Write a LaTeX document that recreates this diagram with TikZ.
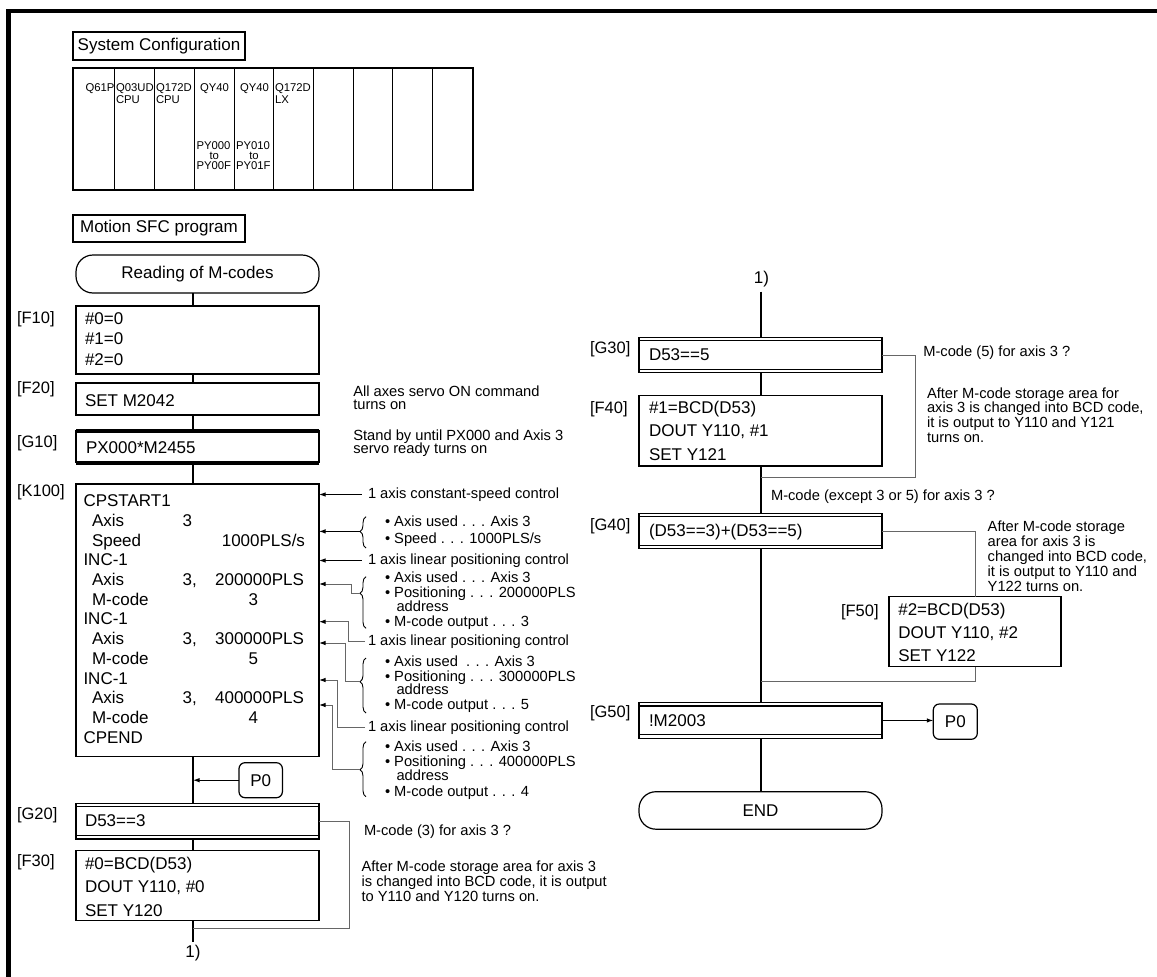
\documentclass[tikz,border=0pt]{standalone}
\usepackage{fontspec}
\setmainfont{Liberation Sans}
\usetikzlibrary{arrows.meta,decorations.pathreplacing}
\tikzset{
  every node/.style={inner sep=0pt,outer sep=0pt},
  T/.style={font=\fontsize{17}{20}\selectfont,anchor=base west},
  TE/.style={font=\fontsize{17}{20}\selectfont,anchor=base east},
  TC/.style={font=\fontsize{17}{20}\selectfont,anchor=base},
  LB/.style={font=\fontsize{16.5}{20}\selectfont,anchor=base west},
  NT/.style={font=\fontsize{14.7}{15}\selectfont,anchor=base west},
  SM/.style={font=\fontsize{11.3}{12}\selectfont,anchor=base west},
  SMC/.style={font=\fontsize{11.3}{12}\selectfont,anchor=base},
  blk/.style={draw,line width=1.2pt,rectangle,anchor=north west,minimum width=243pt},
  trn/.style={blk,minimum height=35.5pt},
  stad/.style={draw,line width=1.2pt,rectangle,rounded corners=17pt,anchor=north west,minimum width=243pt,font=\fontsize{17}{20}\selectfont},
  pz/.style={draw,line width=1.2pt,rectangle,rounded corners=6pt,anchor=north west,font=\fontsize{17}{20}\selectfont},
  flow/.style={line width=1.2pt},
  br/.style={draw=black!60,line width=1pt},
  arr/.style={line width=1pt,-{Latex[length=6.5pt,width=4.5pt,color=black]}},
  elb/.style={draw=black!60,line width=1pt,-{Latex[length=6.5pt,width=4.5pt,color=black]}},
  brc/.style={decorate,line width=0.9pt,decoration={brace,mirror,amplitude=6pt,aspect=#1}},
  hdr/.style={draw,line width=1.1pt,anchor=north west,minimum width=172pt,font=\fontsize{17}{20}\selectfont},
}
\begin{document}
\begin{tikzpicture}[x=1pt,y=-1pt]
\useasboundingbox (0,0) rectangle (1157,977);
% page frame
\draw[line width=4pt] (6,11) -- (1157,11);
\draw[line width=5pt] (8.5,9) -- (8.5,977);

% ---------- System configuration ----------
\node[hdr,minimum height=28pt] (sysc) at (73,32) {System Configuration};
\node[draw,line width=2pt,anchor=north west,minimum width=400pt,minimum height=122pt] (tbl) at (73.3,68) {};
\foreach \x in {114.3,154.3,194.3,234,273.7,313.3,353.3,392.7,432.7}
  \draw[line width=1pt] (\x,68) -- (\x,190);
\node[SM] (c1) at (85.5,91.7) {Q61P};
\node[SM] (c2) at (116,91.7) {Q03UD};
\node[SM] (c2b) at (116,103.5) {CPU};
\node[SM] (c3) at (156,91.7) {Q172D};
\node[SM] (c3b) at (156,103.5) {CPU};
\node[SM] (c4) at (200,91.7) {QY40};
\node[SM] (c5) at (240,91.7) {QY40};
\node[SM] (c6) at (275,91.7) {Q172D};
\node[SM] (c6b) at (275,103.5) {LX};
\node[SM] (c4a) at (196.5,149.3) {PY000};
\node[SMC] (c4t) at (214.3,159.3) {to};
\node[SM] (c4c) at (196.5,169.3) {PY00F};
\node[SM] (c5a) at (236,149.3) {PY010};
\node[SMC] (c5t) at (254,159.3) {to};
\node[SM] (c5c) at (236,169.3) {PY01F};

\node[hdr,minimum height=27pt] (msfc) at (73,215) {Motion SFC program};

% ---------- left column ----------
\coordinate (L) at (193,0);
\node[stad,minimum height=38pt] (start) at (76,255) {Reading of M-codes};
\node[blk,minimum height=68pt] (f10) at (76,306) {};
\node[blk,minimum height=32pt] (f20) at (76,383) {};
\node[blk,minimum height=31.5pt] (g10) at (76,431) {};
\node[blk,minimum height=272.7pt] (k100) at (76,484) {};
\node[trn] (g20) at (76,803.5) {};
\node[blk,minimum height=69.5pt] (f30) at (76,850.7) {};
\draw[line width=4pt] (g10.north west) -- (g10.north east);
\draw[line width=4pt] (g10.south west) -- (g10.south east);

\node[LB] (lf10) at (17,323) {[F10]};
\node[LB] (lf20) at (17,393.5) {[F20]};
\node[LB] (lg10) at (17,447.5) {[G10]};
\node[LB] (lk100) at (17,496.5) {[K100]};
\node[LB] (lg20) at (17,819) {[G20]};
\node[LB] (lf30) at (17,866) {[F30]};

\foreach \t [count=\i from 0] in {\#0=0,\#1=0,\#2=0}
  \node[T] (f10t\i) at (85,324+20.5*\i) {\t};
\node[T] (f20t) at (85,406.7) {SET M2042};
\node[T] (g10t) at (86,453) {PX000*M2455};
\foreach \t/\x [count=\i from 0] in {CPSTART1/83.5,Axis/92,Speed/92,INC-1/83.5,Axis/92,M-code/92,INC-1/83.5,Axis/92,M-code/92,INC-1/83.5,Axis/92,M-code/92,CPEND/83.5}
  \node[T] (kA\i) at (\x,506.7+19.7*\i) {\t};
\node[T] (kB1) at (182.7,526.4) {3};
\node[TE] (kC2) at (305,546.1) {1000PLS/s};
\node[T] (kB4) at (182.7,585.5) {3,};
\node[TE] (kC4) at (304,585.5) {200000PLS};
\node[TC] (kC5) at (253.3,605.2) {3};
\node[T] (kB7) at (182.7,644.6) {3,};
\node[TE] (kC7) at (304,644.6) {300000PLS};
\node[TC] (kC8) at (253.3,664.3) {5};
\node[T] (kB10) at (182.7,703.7) {3,};
\node[TE] (kC10) at (304,703.7) {400000PLS};
\node[TC] (kC11) at (253.3,723.4) {4};
\node[T] (g20t) at (85,826.7) {D53==3};
\node[T] (f30t0) at (85,869) {\#0=BCD(D53)};
\node[T] (f30t1) at (85,892.5) {DOUT Y110, \#0};
\node[T] (f30t2) at (85,916) {SET Y120};

\node[pz,minimum width=43.4pt,minimum height=35pt] (p0a) at (239,762.7) {P0};
\coordinate (l1top) at (193,941.7);
\node[TC] (l1) at (193,957) {1)};

% left flow lines
\draw[flow] (start.south -| L) -- (f10.north -| L);
\draw[flow] (f10.south -| L) -- (f20.north -| L);
\draw[flow] (f20.south -| L) -- (g10.north -| L);
\draw[flow] (g10.south -| L) -- (k100.north -| L);
\draw[flow] (k100.south -| L) -- (g20.north -| L);
\draw[flow] (g20.south -| L) -- (f30.north -| L);
\draw[flow] (f30.south -| L) -- (l1top);
\draw[arr] (p0a.west) -- (p0a.west -| L);
\foreach \n in {g20}{
  \draw[line width=1.1pt] ([yshift=-3.3pt]\n.north west) -- ([yshift=-3.3pt]\n.north east);
  \draw[line width=1.1pt] ([yshift=3.3pt]\n.south west) -- ([yshift=3.3pt]\n.south east);
}
\coordinate (b20) at (349.4,928);
\draw[br] (g20.east) -| (b20) -- (b20 -| L);

% ---------- left annotations ----------
\node[NT] (n20a) at (353.3,396) {All axes servo ON command};
\node[NT] (n20b) at (353.3,409.5) {turns on};
\node[NT] (n10a) at (353.3,440) {Stand by until PX000 and Axis 3};
\node[NT] (n10b) at (353.3,453) {servo ready turns on};

\node[NT] (t1) at (368,498.3) {1 axis constant-speed control};
\node[NT] (t2) at (368,564.3) {1 axis linear positioning control};
\node[NT] (t3) at (368,645.7) {1 axis linear positioning control};
\node[NT] (t4) at (368,731.7) {1 axis linear positioning control};

\node[NT] (b1a) at (385,526.7) {• Axis used . . . Axis 3};
\node[NT] (b1b) at (385,543.3) {• Speed . . . 1000PLS/s};
\node[NT] (b2a) at (385,582.7) {• Axis used . . . Axis 3};
\node[NT] (b2b) at (385,597.3) {• Positioning . . . 200000PLS};
\node[NT] (b2c) at (396.5,611.2) {address};
\node[NT] (b2d) at (385,626.7) {• M-code output . . . 3};
\node[NT] (b3a) at (385,666.7) {• Axis used\ \ . . . Axis 3};
\node[NT] (b3b) at (385,681.2) {• Positioning . . . 300000PLS};
\node[NT] (b3c) at (396.5,694.6) {address};
\node[NT] (b3d) at (385,709.3) {• M-code output . . . 5};
\node[NT] (b4a) at (385,751.7) {• Axis used . . . Axis 3};
\node[NT] (b4b) at (385,766) {• Positioning . . . 400000PLS};
\node[NT] (b4c) at (396.5,780.4) {address};
\node[NT] (b4d) at (385,796.7) {• M-code output . . . 4};

\draw[brc=0.47] (366,516.7) -- (366,548);
\draw[brc=0.32] (366,576.7) -- (366,628.3);
\draw[brc=0.43] (366,658) -- (366,713);
\draw[brc=0.51] (366,741.7) -- (366,796.7);
\coordinate (b1tip) at (359.5,531.4);
\coordinate (b2tip) at (359.5,593.2);
\coordinate (b3tip) at (359.5,681.7);
\coordinate (b4tip) at (359.5,769.8);
\coordinate (e4) at (351,584);
\coordinate (e5) at (348,621.7);
\coordinate (e6) at (345,643);
\coordinate (e7) at (337,680);
\coordinate (e8) at (332,705);

\draw[arr] ([xshift=-6.5pt]t1.west) -- (t1.west -| k100.east);
\draw[arr] (b1tip) -- (b1tip -| k100.east);
\draw[arr] ([xshift=-6.5pt]t2.west) -- (t2.west -| k100.east);
\draw[elb] (b2tip) -| (e4) -- (e4 -| k100.east);
\draw[elb] ([xshift=-3pt]t3.west) -| (e5) -- (e5 -| k100.east);
\draw[elb] (b3tip) -| (e6) -- (e6 -| k100.east);
\draw[elb] ([xshift=-3pt]t4.west) -| (e7) -- (e7 -| k100.east);
\draw[elb] (b4tip) -| (e8) -- (e8 -| k100.east);

\node[NT] (n20) at (364,835) {M-code (3) for axis 3 ?};
\node[NT] (n30a) at (361.6,871.7) {After M-code storage area for axis 3};
\node[NT] (n30b) at (361.6,886.7) {is changed into BCD code, it is output};
\node[NT] (n30c) at (361.6,901.7) {to Y110 and Y120 turns on.};

% ---------- right column ----------
\coordinate (R) at (761,0);
\node[TC] (r1) at (761.5,283.3) {1)};
\coordinate (r1bot) at (761,291.7);
\node[trn] (g30) at (639,337.3) {};
\node[blk,minimum height=70.3pt] (f40) at (639,395.7) {};
\node[trn] (g40) at (639,513.3) {};
\node[trn] (g50) at (639,702.7) {};
\node[stad,minimum height=37.5pt] (endn) at (639,791.7) {END};
\node[pz,minimum width=44pt,minimum height=35.3pt] (p0b) at (933.3,704) {P0};

\foreach \n in {g30,g40,g50}{
  \draw[line width=1.1pt] ([yshift=-3.3pt]\n.north west) -- ([yshift=-3.3pt]\n.north east);
  \draw[line width=1.1pt] ([yshift=3.3pt]\n.south west) -- ([yshift=3.3pt]\n.south east);
}

\node[LB] (lg30) at (590,353) {[G30]};
\node[LB] (lf40) at (590,413.5) {[F40]};
\node[LB] (lg40) at (590,530) {[G40]};
\node[LB] (lf50) at (841,616) {[F50]};
\node[LB] (lg50) at (590,717.5) {[G50]};

\node[T] (g30t) at (649,360) {D53==5};
\node[T] (f40t0) at (649,413.5) {\#1=BCD(D53)};
\node[T] (f40t1) at (649,436.7) {DOUT Y110, \#1};
\node[T] (f40t2) at (649,460) {SET Y121};
\node[T] (g40t) at (649,536) {(D53==3)+(D53==5)};
\node[T] (g50t) at (649,726.7) {!M2003};

\draw[flow] (r1bot) -- (g30.north -| R);
\draw[flow] (g30.south -| R) -- (f40.north -| R);
\draw[flow] (f40.south -| R) -- (g40.north -| R);
\draw[flow] (g40.south -| R) -- (g50.north -| R);
\draw[flow] (g50.south -| R) -- (endn.north -| R);
\draw[arr] (g50.east) -- (g50.east -| p0b.west);

\coordinate (b30) at (915.7,477.7);
\draw[br] (g30.east) -| (b30) -- (b30 -| R);

\node[blk,minimum width=172pt,minimum height=70pt,fill=white] (f50) at (889,596.7) {};
\node[T] (f50t0) at (898.3,615) {\#2=BCD(D53)};
\node[T] (f50t1) at (898.3,638.5) {DOUT Y110, \#2};
\node[T] (f50t2) at (898.3,661.7) {SET Y122};
\coordinate (b40) at (975,681.7);
\draw[br] (g40.east) -| (f50.north);
\draw[br] (f50.south) -- (b40) -- (b40 -| R);

% right annotations
\node[NT] (n30) at (923.3,356) {M-code (5) for axis 3 ?};
\node[NT] (n40a) at (927,398) {After M-code storage area for};
\node[NT] (n40b) at (927,412.7) {axis 3 is changed into BCD code,};
\node[NT] (n40c) at (927,427.4) {it is output to Y110 and Y121};
\node[NT] (n40d) at (927,442.1) {turns on.};
\node[NT] (n45) at (771,500.7) {M-code (except 3 or 5) for axis 3 ?};
\foreach \t [count=\i from 0] in {After M-code storage,area for axis 3 is,{changed into BCD code,},it is output to Y110 and,Y122 turns on.}
  \node[NT] (n50\i) at (987.7,531.7+15*\i) {\t};
\end{tikzpicture}
\end{document}
